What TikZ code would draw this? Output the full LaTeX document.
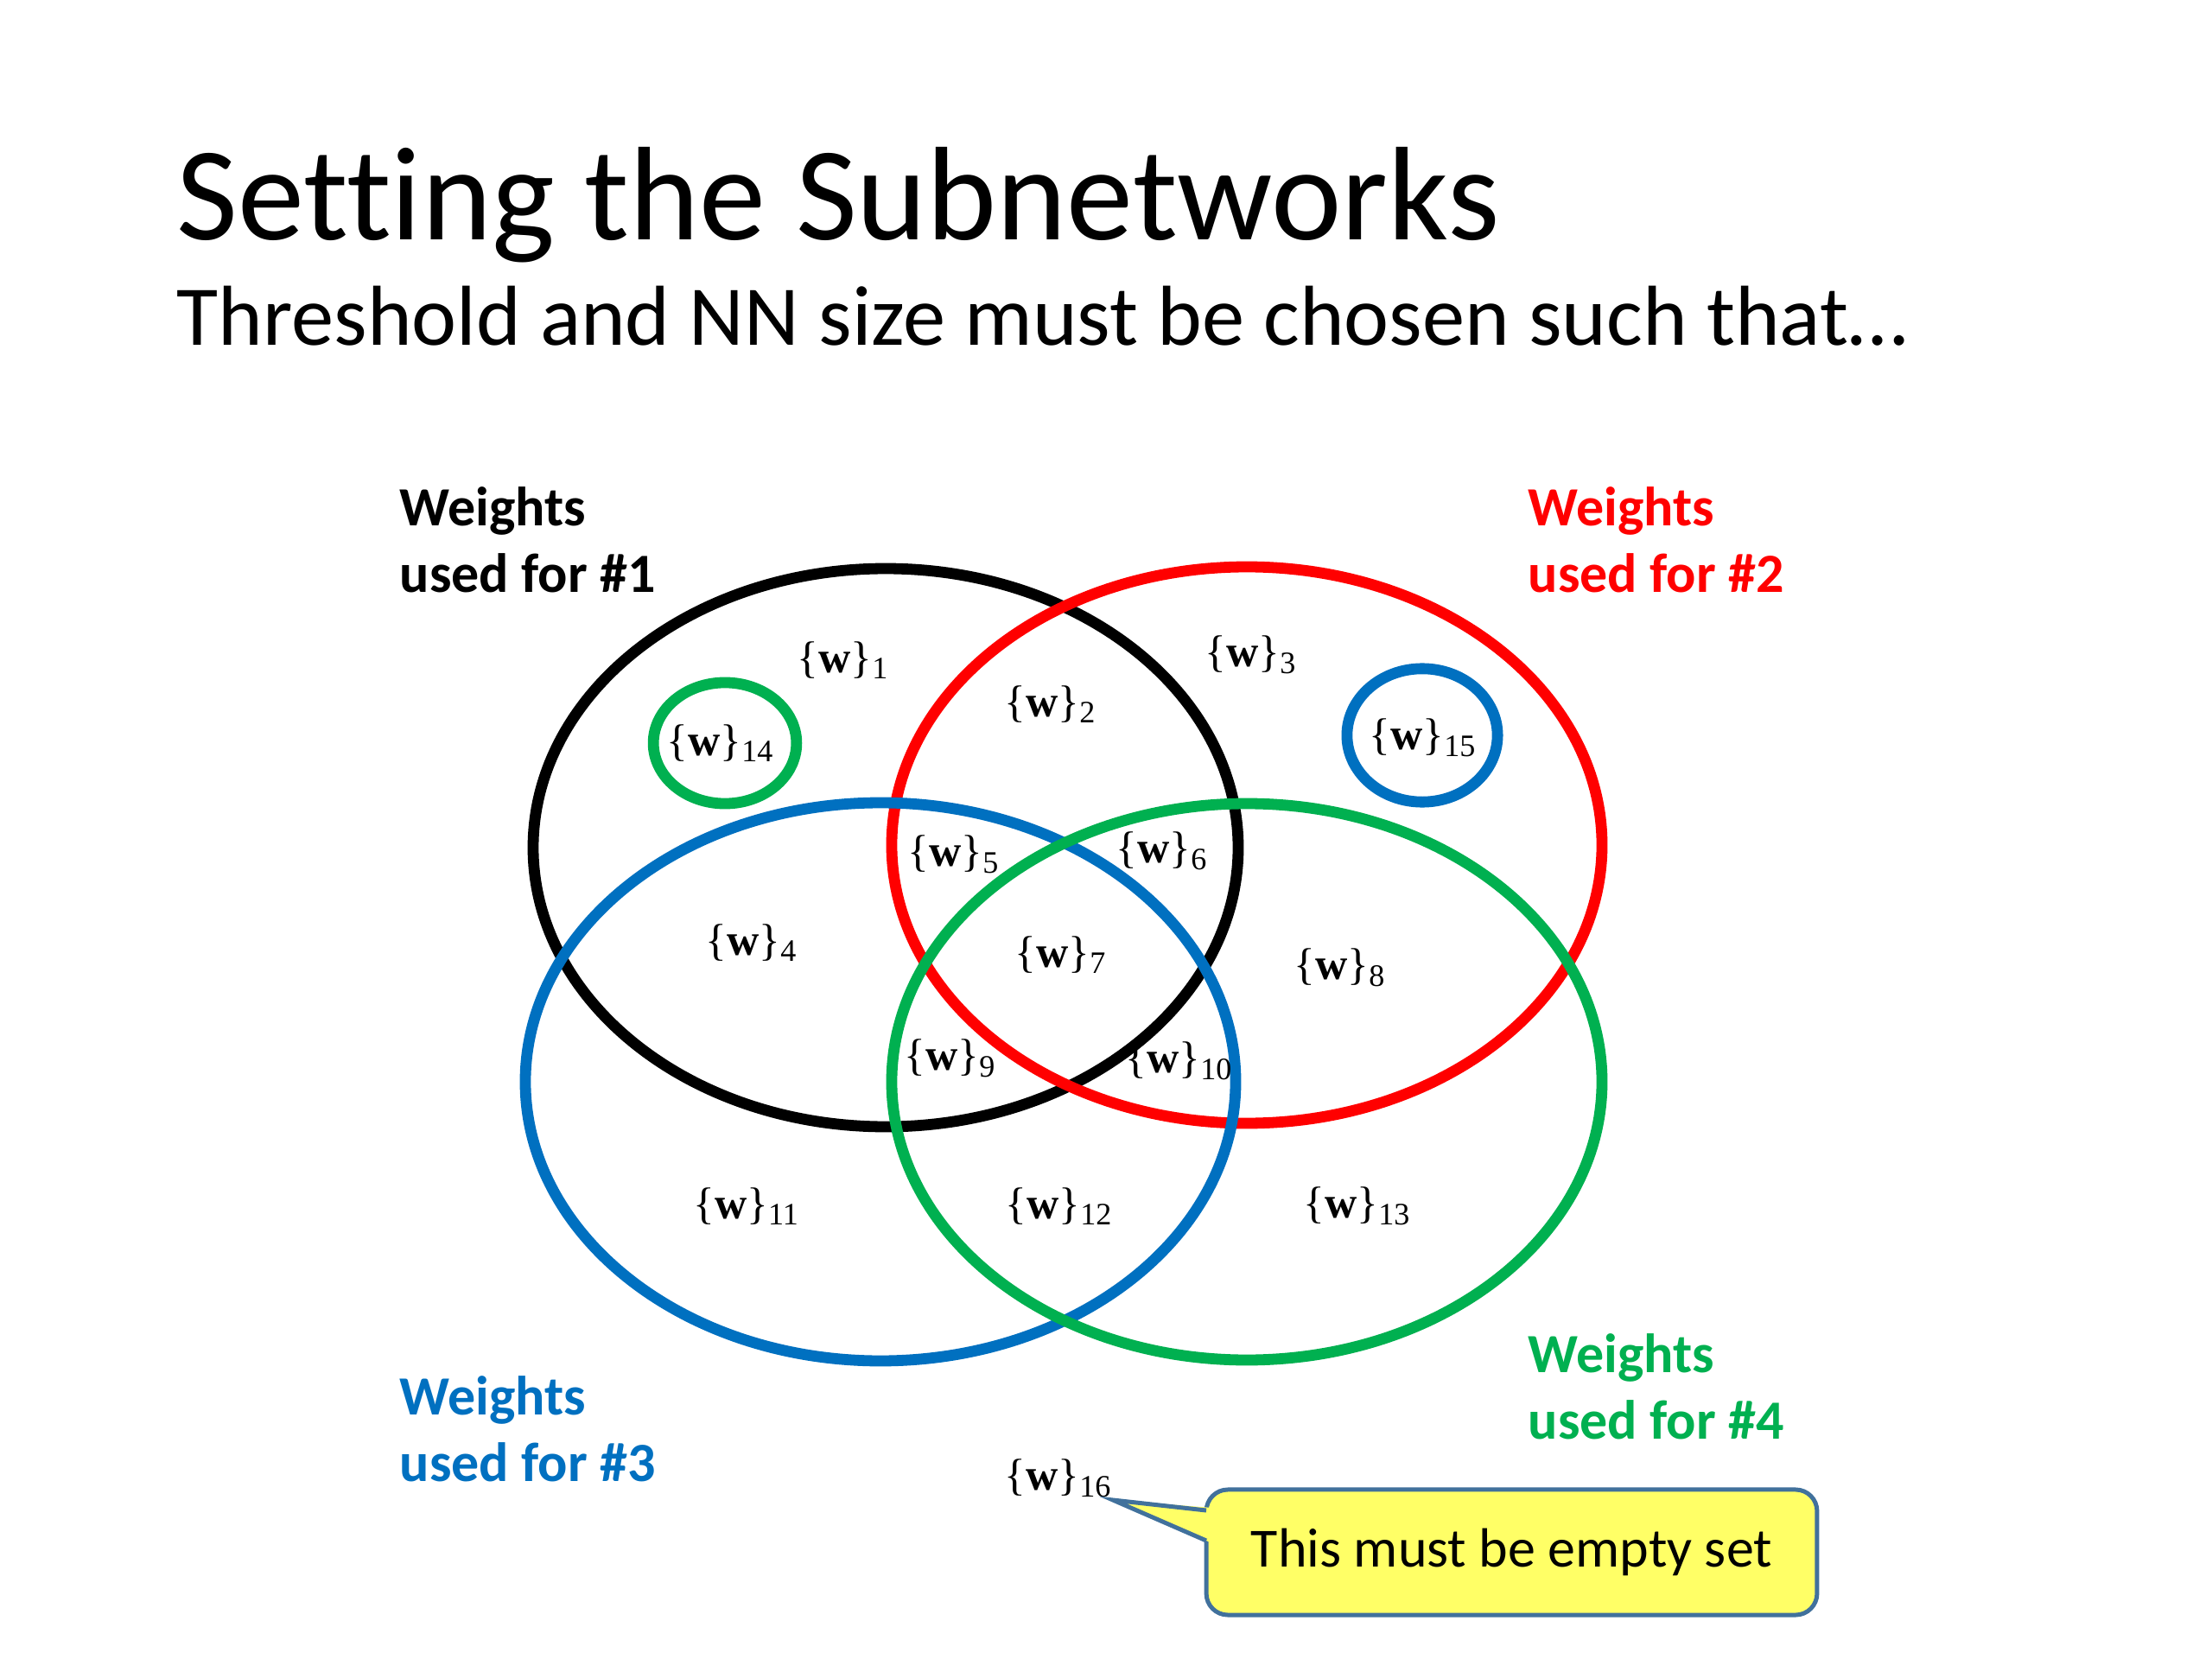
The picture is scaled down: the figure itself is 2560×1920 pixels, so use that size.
\documentclass[tikz,border=0pt]{standalone}
\usepackage{fontspec}
\setmainfont[Ligatures=CommonOff]{Carlito}
\newfontfamily\tms{Liberation Serif}
\definecolor{cred}{HTML}{FF0000}
\definecolor{cblue}{HTML}{0070C0}
\definecolor{cgreen}{HTML}{00B050}
\definecolor{cyell}{HTML}{FFFF66}
\definecolor{cedge}{HTML}{41719C}
\newcommand\wset[1]{{\tms\{\textbf{w}\}\textsubscript{#1}}}
\begin{document}
\begin{tikzpicture}[x=0.28125pt, y=-0.28125pt,
  ring/.style={line width=3.6pt},
  wlab/.style={font=\tms\fontsize{14.5}{16}\selectfont, inner sep=0pt},
  grp/.style={font=\bfseries\fontsize{18}{21.6}\selectfont, align=left, anchor=north west, inner sep=0pt},
  callout/.style={draw=cedge, fill=cyell, line width=1.4pt, rounded corners=7pt,
    font=\fontsize{18}{22}\selectfont, minimum width=198.8pt, minimum height=40.8pt, inner sep=0pt}]
\useasboundingbox (0,0) rectangle (2560,1920);
\fill[white] (0,0) rectangle (2560,1920);

\node[font=\fontsize{43.4}{50}\selectfont, anchor=base west, inner sep=0pt] (title) at (204,278) {Setting the Subnetworks};
\node[font=\fontsize{27.7}{34}\selectfont, anchor=base west, inner sep=0pt] (subtitle) at (204,400) {Threshold and NN size must be chosen such that…};

% main ellipses
\draw[ring, black] (1025,981) ellipse [x radius=114.75pt, y radius=90.84pt];
\draw[ring, cred] (1443,978) ellipse [x radius=115.6pt, y radius=90.56pt];
\draw[ring, cblue] (1019,1252) ellipse [x radius=115.6pt, y radius=90.84pt];
\draw[ring, cgreen] (1443,1252) ellipse [x radius=115.6pt, y radius=90.56pt];
% small circles
\draw[ring, cgreen] (839,860) ellipse [x radius=23.3pt, y radius=19.7pt];
\draw[ring, cblue] (1646,851) ellipse [x radius=24.5pt, y radius=21.7pt];

% group labels
\node[grp] (g1) at (462,563) {Weights\\used for \#1};
\node[grp, text=cred] (g2) at (1768,563) {Weights\\used for \#2};
\node[grp, text=cblue] (g3) at (462,1592) {Weights\\used for \#3};
\node[grp, text=cgreen] (g4) at (1768,1543) {Weights\\used for \#4};

% set labels
\node[wlab] (w1) at (976,764) {\wset{1}};
\node[wlab] (w2) at (1216,815) {\wset{2}};
\node[wlab] (w3) at (1448,758) {\wset{3}};
\node[wlab] (w4) at (870,1091) {\wset{4}};
\node[wlab] (w5) at (1104,989) {\wset{5}};
\node[wlab] (w6) at (1345,985) {\wset{6}};
\node[wlab] (w7) at (1228,1105) {\wset{7}};
\node[wlab] (w8) at (1551,1120) {\wset{8}};
\node[wlab] (w9) at (1100,1225) {\wset{9}};
\node[wlab] (w10) at (1365,1228) {\wset{10}};
\node[wlab] (w11) at (864,1396) {\wset{11}};
\node[wlab] (w12) at (1226,1396) {\wset{12}};
\node[wlab] (w13) at (1571,1396) {\wset{13}};
\node[wlab] (w14) at (834,860) {\wset{14}};
\node[wlab] (w15) at (1647,854) {\wset{15}};
\node[wlab] (w16) at (1225,1711) {\wset{16}};

% callout
\node[callout] (note) at (1749.5,1796.5) {\raisebox{-2pt}{This must be empty set}};
\coordinate (tip) at (1288,1736);
\fill[cyell] (tip) -- (1403,1745) -- (1403,1786) -- cycle;
\draw[cedge, line width=1.4pt, line join=miter] (1396,1748) -- (tip) -- (1396,1783);
\end{tikzpicture}
\end{document}
